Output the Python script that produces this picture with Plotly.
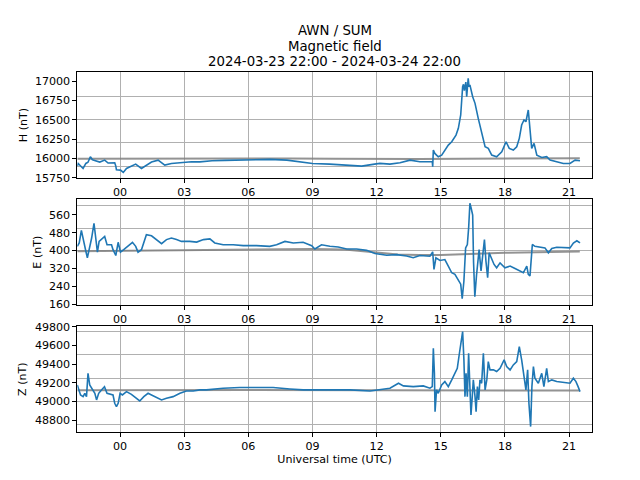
import pandas as pd
import plotly.graph_objects as go

# ---------------- data (hours relative to 2024-03-24 00:00 UTC) ----------------
H_hours = [-2.0, -1.96, -1.73, -1.6, -1.5, -1.42, -1.39, -1.3, -1.26, -0.95, -0.72, -0.56, -0.25, -0.2, -0.17,
           0.02, 0.15, 0.3, 0.61, 0.73, 1.0, 1.16, 1.47, 1.78, 2.09, 2.4, 2.87, 3.34, 3.73, 4.3, 4.9, 6.0, 7.0,
           7.8, 8.4, 9.0, 9.8, 10.7, 11.3, 11.9, 12.15, 12.62, 13.09, 13.56, 14.02, 14.49, 14.6, 14.62, 14.65,
           14.72, 14.88, 15.04, 15.19, 15.35, 15.51, 15.71, 15.82, 15.93, 16.02, 16.06, 16.1, 16.13, 16.17, 16.21,
           16.28, 16.32, 16.36, 16.49, 16.6, 16.75, 16.91, 17.07, 17.22, 17.38, 17.61, 17.85, 18.05, 18.2, 18.39,
           18.55, 18.67, 18.78, 18.89, 18.98, 19.09, 19.17, 19.25, 19.36, 19.49, 19.72, 19.95, 20.11, 20.42,
           20.73, 21.04, 21.28, 21.51]
H_vals = [15900, 15935, 15870, 15935, 15950, 15990, 16021, 15985, 15978, 15953, 15978, 15940, 15944, 15900, 15854,
          15848, 15818, 15870, 15913, 15926, 15870, 15900, 15953, 15978, 15913, 15935, 15948, 15957, 15955, 15970,
          15975, 15978, 15987, 15978, 15957, 15935, 15926, 15913, 15900, 15926, 15935, 15926, 15944, 15978, 15957,
          15957, 15960, 15892, 16108, 16065, 16022, 16043, 16108, 16173, 16216, 16303, 16390, 16563, 16931, 16960,
          16880, 16974, 16990, 16801, 17039, 16930, 16953, 16801, 16714, 16520, 16346, 16152, 16130, 16043, 16022,
          16087, 16216, 16130, 16108, 16152, 16260, 16433, 16498, 16476, 16628, 16368, 16130, 16195, 16043, 16013,
          16022, 15978, 15957, 15935, 15935, 15978, 15970]

E_hours = [-2.0, -1.91, -1.81, -1.7, -1.6, -1.53, -1.45, -1.33, -1.22, -1.14, -1.06, -0.98, -0.87, -0.72, -0.61,
           -0.4, -0.33, -0.2, -0.09, 0.02, 0.17, 0.38, 0.58, 0.73, 0.84, 1.0, 1.11, 1.23, 1.47, 1.7, 1.94, 2.17,
           2.4, 2.64, 2.87, 3.26, 3.58, 3.9, 4.2, 4.43, 4.82, 5.29, 5.76, 6.38, 7.0, 7.32, 7.71, 8.1, 8.56, 8.96,
           9.11, 9.42, 9.81, 10.2, 10.6, 11.06, 11.53, 11.92, 12.15, 12.47, 12.93, 13.4, 13.71, 14.02, 14.49,
           14.62, 14.68, 14.77, 14.96, 15.19, 15.35, 15.51, 15.66, 15.82, 15.93, 16.0, 16.08, 16.16, 16.24, 16.3,
           16.36, 16.42, 16.49, 16.53, 16.59, 16.67, 16.79, 16.88, 16.96, 17.04, 17.11, 17.19, 17.26, 17.38,
           17.49, 17.61, 17.77, 18.0, 18.24, 18.47, 18.7, 18.86, 19.02, 19.09, 19.17, 19.22, 19.28, 19.4, 19.64,
           19.87, 20.03, 20.19, 20.42, 20.73, 21.04, 21.2, 21.36, 21.51]
E_vals = [419, 434, 490, 434, 397, 368, 404, 456, 522, 463, 393, 441, 452, 463, 426,
          426, 404, 378, 437, 393, 404, 419, 437, 419, 393, 404, 434, 471, 466, 449, 431, 449,
          456, 449, 441, 441, 438, 449, 452, 434, 426, 426, 422, 422, 419, 426, 441, 434, 437, 422,
          407, 426, 419, 416, 407, 407, 401, 387, 385, 379, 382, 376, 368, 378, 375,
          394, 316, 368, 356, 360, 331, 301, 294, 264, 250, 185, 264, 412, 427, 500,
          611, 589, 559, 350, 194, 291, 404, 309, 375, 449, 353, 279, 390, 360,
          338, 323, 345, 323, 331, 320, 309, 301, 331, 294, 287, 360, 427, 419, 415,
          412, 390, 409, 415, 415, 412, 434, 444, 434]

Z_hours = [-2.0, -1.94, -1.85, -1.73, -1.65, -1.57, -1.5, -1.42, -1.29, -1.18, -1.1, -1.0, -0.87, -0.73, -0.61,
           -0.48, -0.33, -0.25, -0.17, -0.09, 0.0, 0.11, 0.3, 0.53, 0.77, 0.92, 1.11, 1.31, 1.47, 1.7, 1.94, 2.17,
           2.48, 2.8, 3.1, 3.42, 3.73, 4.04, 4.82, 5.6, 6.38, 7.16, 7.94, 8.56, 9.11, 9.81, 10.75, 11.69, 12.15,
           12.62, 13.02, 13.25, 13.71, 14.18, 14.49, 14.6, 14.65, 14.7, 14.73, 14.8, 14.88, 15.04, 15.19, 15.35,
           15.51, 15.66, 15.77, 15.87, 15.95, 16.02, 16.08, 16.13, 16.18, 16.24, 16.3, 16.35, 16.41, 16.47, 16.52,
           16.6, 16.65, 16.71, 16.77, 16.83, 16.91, 16.99, 17.07, 17.15, 17.22, 17.3, 17.46, 17.61, 17.77, 17.96,
           18.08, 18.24, 18.39, 18.55, 18.67, 18.78, 18.89, 18.98, 19.06, 19.12, 19.2, 19.26, 19.33, 19.4, 19.56,
           19.72, 19.82, 19.95, 20.03, 20.19, 20.42, 20.73, 21.04, 21.2, 21.32, 21.42, 21.51]
Z_vals = [49178, 49125, 49071, 49053, 49089, 49053, 49303, 49178, 49125, 49089, 49018, 49089, 49125, 49160, 49089,
          49078, 49071, 48982, 48947, 48982, 49089, 49071, 49107, 49078, 49036, 49007, 49053, 49089, 49071, 49043,
          49018, 49036, 49053, 49089, 49114, 49114, 49125, 49125, 49143, 49150, 49150, 49150, 49135, 49125, 49125,
          49125, 49125, 49114, 49125, 49143, 49196, 49168, 49160, 49168, 49143, 49160, 49570, 49303, 48893, 49125,
          49089, 49178, 49214, 49160, 49232, 49303, 49356, 49517, 49624, 49749, 49446, 49053, 49303, 49053, 49517,
          49232, 48857, 49053, 49232, 49053, 48893, 49160, 49018, 49232, 49196, 49517, 49125, 49232, 49428, 49339,
          49339, 49321, 49356, 49446, 49374, 49339, 49392, 49428, 49588, 49446, 49267, 49125, 49339, 48982, 48733,
          49160, 49374, 49250, 49196, 49303, 49160, 49356, 49214, 49232, 49214, 49203, 49196, 49250, 49214, 49160,
          49107]

# quiet-day baselines
HB_hours = [-2, 0, 3, 6, 8, 10, 12, 14, 16, 18, 21.5]
HB_vals = [15995, 15997, 15998, 16000, 16000, 15995, 15990, 15992, 15995, 15999, 16003]
EB_hours = [-2, 0, 3, 6, 9, 10.5, 12, 13, 14, 15, 16, 18, 21.5]
EB_vals = [397, 399, 401, 403, 407, 405, 390, 383, 380, 380, 384, 390, 396]
ZB_hours = [-2, 6, 12, 21.5]
ZB_vals = [49120, 49125, 49120, 49118]

# axis labels / ticks
H_ticks = [15750, 16000, 16250, 16500, 16750, 17000]
E_ticks = [160, 240, 320, 400, 480, 560]
Z_ticks = [48800, 49000, 49200, 49400, 49600, 49800]
H_grid = [15900, 16203, 16506, 16809]
E_grid = [200, 300, 400, 500, 600]
Z_grid = [48750, 49000, 49250, 49500, 49750]
H_range = [15750, 17117]
E_range = [157, 629]
Z_range = [48675, 49805]
TITLE_LINES = ["AWN / SUM", "Magnetic field", "2024-03-23 22:00 - 2024-03-24 22:00"]

base = pd.Timestamp("2024-03-24 00:00")


def tx(hours):
    return base + pd.to_timedelta(hours, unit="h")


BLUE = "#1f77b4"
GRAY = "rgba(128,128,128,0.85)"
GRID = "#b0b0b0"
FONT = "DejaVu Sans"
FS = 11.1

fig = go.Figure()

panels = [
    ("H (nT)", H_hours, H_vals, HB_hours, HB_vals, H_ticks, H_grid, H_range, (0.6298, 0.8494)),
    ("E (nT)", E_hours, E_vals, EB_hours, EB_vals, E_ticks, E_grid, E_range, (0.3646, 0.5848)),
    ("Z (nT)", Z_hours, Z_vals, ZB_hours, ZB_vals, Z_ticks, Z_grid, Z_range, (0.1, 0.3202)),
]

xr = [tx(-2.0), tx(22.07)]
layout = {}
for i, (lab, hh, vv, bh, bv, ticks, grid, yr, dom) in enumerate(panels):
    n = i + 1
    xs = "" if n == 1 else str(n)
    ymain = "y" + xs
    ytwin = "y" + str(n + 3)
    xname = "x" + xs
    fig.add_trace(go.Scatter(x=tx(bh), y=bv, mode="lines", line=dict(color=GRAY, width=2),
                             xaxis=xname, yaxis=ymain, showlegend=False, hoverinfo="skip"))
    fig.add_trace(go.Scatter(x=tx(hh), y=vv, mode="lines", line=dict(color=BLUE, width=1.6),
                             xaxis=xname, yaxis=ytwin, showlegend=False))
    layout["xaxis" + xs] = dict(
        type="date", range=xr, domain=[0.1208, 0.925], anchor=ymain, automargin=False,
        tick0=base, dtick=3 * 3600 * 1000, tickformat="%H",
        showgrid=True, gridcolor=GRID, gridwidth=0.9,
        ticks="outside", ticklen=3.9, tickwidth=0.9, tickcolor="black",
        showline=True, mirror=True, linecolor="black", linewidth=1,
        tickfont=dict(family=FONT, size=FS, color="black"), zeroline=False,
    )
    layout["yaxis" + xs] = dict(
        range=yr, domain=list(dom), anchor=xname, tickvals=ticks, tickformat="d", automargin=False,
        showgrid=False, zeroline=False,
        ticks="outside", ticklen=3.9, tickwidth=0.9, tickcolor="black",
        showline=True, mirror=True, linecolor="black", linewidth=1,
        tickfont=dict(family=FONT, size=FS, color="black"),
        title=dict(text=lab, font=dict(family=FONT, size=FS, color="black"), standoff=5),
    )
    layout["yaxis" + str(n + 3)] = dict(
        range=yr, overlaying=ymain, anchor=xname, side="right", tickvals=grid, automargin=False,
        showgrid=True, gridcolor=GRID, gridwidth=0.9, showticklabels=False, ticks="",
        showline=False, zeroline=False,
    )

layout["xaxis3"]["title"] = dict(text="Universal time (UTC)", font=dict(family=FONT, size=FS, color="black"),
                                 standoff=3)

title_y = [31, 46.5, 62]
annotations = [
    dict(text=t, x=0.5228, y=1 - yy / 480, xref="paper", yref="paper", xanchor="center", yanchor="middle",
         showarrow=False, font=dict(family=FONT, size=13.3, color="black"))
    for t, yy in zip(TITLE_LINES, title_y)
]

fig.update_layout(
    **layout,
    annotations=annotations,
    width=640, height=480,
    margin=dict(l=0, r=0, t=0, b=0, autoexpand=False),
    paper_bgcolor="white", plot_bgcolor="white",
    font=dict(family=FONT, size=FS, color="black"),
    showlegend=False,
)

fig.write_html("out.html", config={"displayModeBar": False},
               post_script="document.body.style.margin='0';document.body.style.padding='0';")
